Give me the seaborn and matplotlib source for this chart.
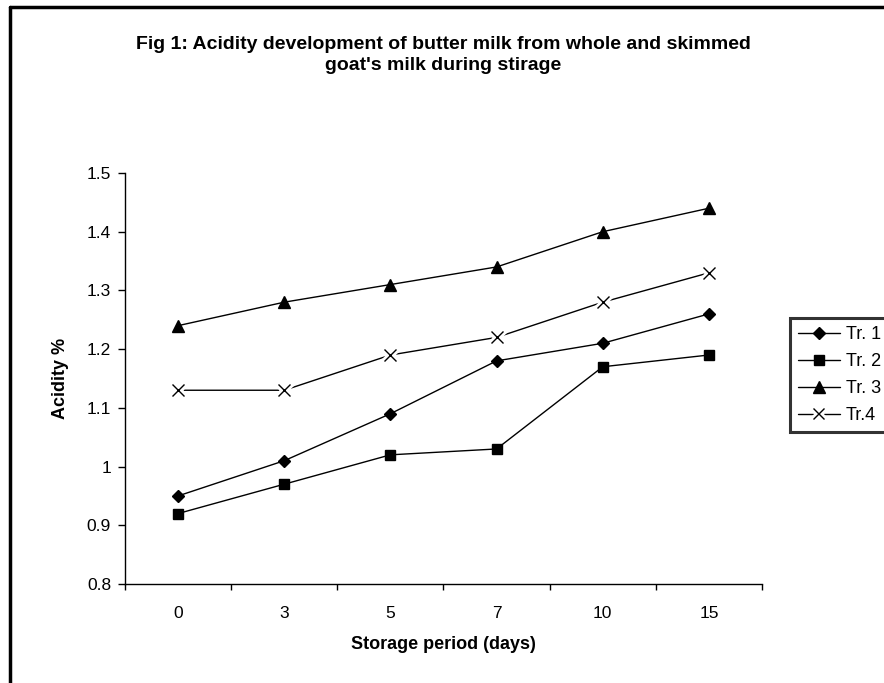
import matplotlib
matplotlib.use("Agg")
import matplotlib.pyplot as plt
import matplotlib.patheffects as pe
import seaborn as sns
import pandas as pd
from matplotlib.lines import Line2D

days = ["0", "3", "5", "7", "10", "15"]
series_names = ["Tr. 1", "Tr. 2", "Tr. 3", "Tr.4"]
tr1 = [0.95, 1.01, 1.09, 1.18, 1.21, 1.26]
tr2 = [0.92, 0.97, 1.02, 1.03, 1.17, 1.19]
tr3 = [1.24, 1.28, 1.31, 1.34, 1.40, 1.44]
tr4 = [1.13, 1.13, 1.19, 1.22, 1.28, 1.33]
y_ticks = [0.8, 0.9, 1.0, 1.1, 1.2, 1.3, 1.4, 1.5]
y_tick_labels = ["0.8", "0.9", "1", "1.1", "1.2", "1.3", "1.4", "1.5"]

rows = []
for name, vals in zip(series_names, [tr1, tr2, tr3, tr4]):
    for i, v in enumerate(vals):
        rows.append({"pos": i, "day": days[i], "Acidity": v, "Series": name})
df = pd.DataFrame(rows)

sns.set_style("white")
plt.rcParams["font.family"] = ["Liberation Sans", "DejaVu Sans"]
plt.rcParams["text.color"] = "black"
plt.rcParams["axes.labelcolor"] = "black"
plt.rcParams["xtick.color"] = "black"
plt.rcParams["ytick.color"] = "black"

fig = plt.figure(figsize=(8.84, 6.83), dpi=100)
ax = fig.add_axes([125/884, 1-584/683, (762-125)/884, (584-173)/683])

markers = {"Tr. 1": "D", "Tr. 2": "s", "Tr. 3": "^", "Tr.4": "x"}
sizes = {"Tr. 1": 6.5, "Tr. 2": 6.5, "Tr. 3": 8, "Tr.4": 8}
for name in series_names:
    sub = df[df["Series"] == name]
    if name == "Tr.4":
        sns.lineplot(data=sub, x="pos", y="Acidity", ax=ax, color="black",
                     linewidth=1.0, legend=False)
        # white halo so the line stops short of each cross, as in the original
        sns.lineplot(data=sub, x="pos", y="Acidity", ax=ax, color="white",
                     marker="x", markersize=sizes[name] + 2, markeredgewidth=5,
                     markeredgecolor="white", linestyle="", legend=False)
        sns.lineplot(data=sub, x="pos", y="Acidity", ax=ax, color="black",
                     marker="x", markersize=sizes[name], markeredgewidth=1.0,
                     markeredgecolor="black", linestyle="", legend=False)
    else:
        sns.lineplot(data=sub, x="pos", y="Acidity", ax=ax, color="black",
                     marker=markers[name], markersize=sizes[name],
                     markeredgecolor="black", markerfacecolor="black",
                     markeredgewidth=1.0, linewidth=1.0, legend=False)

ax.set_xlim(-0.5, len(days) - 0.5)
ax.set_ylim(0.8, 1.5)
ax.set_yticks(y_ticks)
ax.set_yticklabels(y_tick_labels)
ax.set_xticks([i - 0.5 for i in range(len(days) + 1)])
ax.set_xticklabels([])
ax.set_xticks(range(len(days)), minor=True)
ax.set_xticklabels(days, minor=True)
ax.tick_params(axis="x", which="major", length=4, width=1, color="black", direction="out")
ax.tick_params(axis="x", which="minor", length=0, pad=16, labelsize=12.5)
ax.tick_params(axis="y", which="major", length=5, width=1, color="black", direction="out",
               labelsize=12.5, pad=5)
ax.tick_params(axis="both", colors="black", labelcolor="black", left=True, bottom=True)

for s in ["top", "right"]:
    ax.spines[s].set_visible(False)
for s in ["left", "bottom"]:
    ax.spines[s].set_color("black")
    ax.spines[s].set_linewidth(1.0)

ax.set_xlabel("Storage period (days)", fontsize=13, fontweight="bold", color="black")
ax.set_ylabel("Acidity %", fontsize=13, fontweight="bold", color="black")
ax.xaxis.set_label_coords(0.5, (584 - 636) / 411)
ax.yaxis.set_label_coords((69 - 125) / 637, 0.5)

fig.text(443 / 884, 1 - 55/683,
         "Fig 1: Acidity development of butter milk from whole and skimmed\ngoat's milk during stirage",
         ha="center", va="center", fontsize=14, fontweight="bold", linespacing=1.35,
         color="black")

handles = []
for n in series_names:
    if n == "Tr.4":
        handles.append(Line2D([0], [0], color="black", linewidth=1.0, marker="x",
                              markersize=8, markeredgewidth=1.0,
                              path_effects=[pe.withStroke(linewidth=5, foreground="white")]))
    else:
        handles.append(Line2D([0], [0], color="black", linewidth=1.0, marker=markers[n],
                              markersize=sizes[n], markerfacecolor="black",
                              markeredgecolor="black"))
leg = fig.legend(handles, series_names, loc="upper left",
                 bbox_to_anchor=(790/884, 1 - 318/683), frameon=True, fancybox=False,
                 fontsize=13, handlelength=2.3, handletextpad=0.35, borderpad=0.45,
                 labelspacing=0.55, borderaxespad=0)
leg.get_frame().set_edgecolor("black")
leg.get_frame().set_linewidth(2.2)
for t in leg.get_texts():
    t.set_color("black")

# outer chart border (left and top visible, extends beyond canvas)
fig.add_artist(Line2D([10/884, 10/884], [0, 1 - 7/683], color="black", linewidth=2.5,
                      transform=fig.transFigure))
fig.add_artist(Line2D([10/884, 1], [1 - 7/683, 1 - 7/683], color="black", linewidth=2.5,
                      transform=fig.transFigure))

fig.savefig("out.png", dpi=100)
